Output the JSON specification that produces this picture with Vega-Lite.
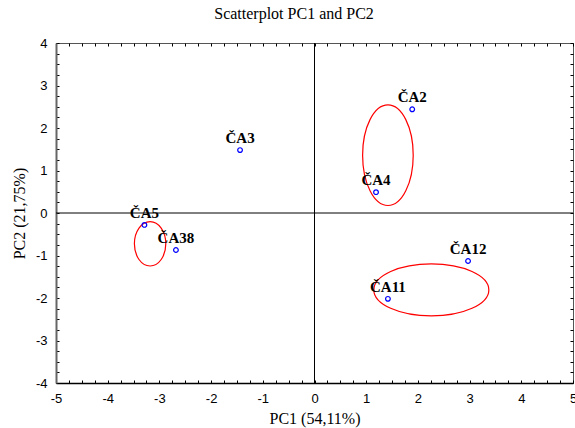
{
  "$schema": "https://vega.github.io/schema/vega-lite/v6.json",
  "width": 517,
  "height": 340,
  "autosize": "none",
  "padding": {"left": 56, "top": 43, "right": 2, "bottom": 45},
  "background": "white",
  "config": {"view": {"stroke": "#555", "strokeWidth": 1}},
  "title": {"text": "Scatterplot PC1 and PC2", "font": "Liberation Serif", "fontSize": 16, "fontWeight": "normal", "color": "black", "offset": 15, "frame": "bounds", "anchor": "middle"},
  "datasets": {
    "pts": [
      {"name": "ČA2", "pc1": 1.89, "pc2": 2.44},
      {"name": "ČA3", "pc1": -1.44, "pc2": 1.48},
      {"name": "ČA4", "pc1": 1.19, "pc2": 0.49},
      {"name": "ČA5", "pc1": -3.29, "pc2": -0.28},
      {"name": "ČA38", "pc1": -2.68, "pc2": -0.87},
      {"name": "ČA12", "pc1": 2.97, "pc2": -1.13},
      {"name": "ČA11", "pc1": 1.42, "pc2": -2.02}
    ],
    "ell": [
      {"group": "A", "pc1": 1.42, "pc2": 1.36},
      {"group": "B", "pc1": -3.18, "pc2": -0.725},
      {"group": "C", "pc1": 2.26, "pc2": -1.81}
    ]
  },
  "layer": [
    {
      "data": {"values": [{"v": 0}]},
      "mark": {"type": "rule", "color": "black", "strokeWidth": 1},
      "encoding": {
        "x": {"datum": 0, "type": "quantitative", "scale": {"domain": [-5, 5], "nice": false, "zero": false},
          "axis": {"orient": "bottom", "title": "PC1 (54,11%)", "titleFont": "Liberation Serif", "titleFontSize": 16, "titleFontWeight": "normal", "titleColor": "black", "titlePadding": 5,
            "values": [-5,-4.75,-4.5,-4.25,-4,-3.75,-3.5,-3.25,-3,-2.75,-2.5,-2.25,-2,-1.75,-1.5,-1.25,-1,-0.75,-0.5,-0.25,0,0.25,0.5,0.75,1,1.25,1.5,1.75,2,2.25,2.5,2.75,3,3.25,3.5,3.75,4,4.25,4.5,4.75,5],
            "labelExpr": "datum.value == round(datum.value) ? '' + datum.value : ''",
            "labelFont": "Liberation Sans", "labelFontSize": 13, "labelColor": "black", "labelFlush": false, "labelOverlap": false,
            "tickSize": -3, "tickColor": "black", "labelPadding": 12, "domainColor": "black", "domainWidth": 1.5, "grid": false}}
      }
    },
    {
      "data": {"values": [{"v": 0}]},
      "mark": {"type": "rule", "color": "black", "strokeWidth": 1},
      "encoding": {
        "y": {"datum": 0, "type": "quantitative", "scale": {"domain": [-4, 4], "nice": false, "zero": false},
          "axis": {"orient": "left", "title": "PC2 (21,75%)", "titleFont": "Liberation Serif", "titleFontSize": 16, "titleFontWeight": "normal", "titleColor": "black", "titlePadding": 8,
            "values": [-4,-3.75,-3.5,-3.25,-3,-2.75,-2.5,-2.25,-2,-1.75,-1.5,-1.25,-1,-0.75,-0.5,-0.25,0,0.25,0.5,0.75,1,1.25,1.5,1.75,2,2.25,2.5,2.75,3,3.25,3.5,3.75,4],
            "labelExpr": "datum.value == round(datum.value) ? '' + datum.value : ''",
            "labelFont": "Liberation Sans", "labelFontSize": 13, "labelColor": "black", "labelFlush": false, "labelOverlap": false,
            "tickSize": -3, "tickColor": "black", "labelPadding": 12, "domainColor": "#666", "domainWidth": 2, "grid": false}}
      }
    },
    {
      "data": {"name": "ell"},
      "mark": {"type": "point", "filled": false, "stroke": "red", "strokeWidth": 1.2, "size": 4, "opacity": 1},
      "encoding": {
        "x": {"field": "pc1", "type": "quantitative",
          "axis": {"orient": "top", "title": null, "labels": false, "domain": false,
            "values": [-5,-4.75,-4.5,-4.25,-4,-3.75,-3.5,-3.25,-3,-2.75,-2.5,-2.25,-2,-1.75,-1.5,-1.25,-1,-0.75,-0.5,-0.25,0,0.25,0.5,0.75,1,1.25,1.5,1.75,2,2.25,2.5,2.75,3,3.25,3.5,3.75,4,4.25,4.5,4.75,5],
            "tickSize": -3, "tickColor": "black", "grid": false}},
        "y": {"field": "pc2", "type": "quantitative",
          "axis": {"orient": "right", "title": null, "labels": false, "domain": false,
            "values": [-4,-3.75,-3.5,-3.25,-3,-2.75,-2.5,-2.25,-2,-1.75,-1.5,-1.25,-1,-0.75,-0.5,-0.25,0,0.25,0.5,0.75,1,1.25,1.5,1.75,2,2.25,2.5,2.75,3,3.25,3.5,3.75,4],
            "tickSize": -3, "tickColor": "black", "grid": false}},
        "shape": {"field": "group", "type": "nominal", "legend": null,
          "scale": {"domain": ["A", "B", "C"], "range": [
            "M -25.3 0 A 25.3 50.3 0 1 0 25.3 0 A 25.3 50.3 0 1 0 -25.3 0 Z",
            "M -15.7 0 A 15.7 22.2 0 1 0 15.7 0 A 15.7 22.2 0 1 0 -15.7 0 Z",
            "M -57.5 0 A 57.5 26 0 1 0 57.5 0 A 57.5 26 0 1 0 -57.5 0 Z"]}}
      }
    },
    {
      "data": {"name": "pts"},
      "mark": {"type": "point", "filled": false, "stroke": "blue", "strokeWidth": 1.2, "size": 22, "opacity": 1},
      "encoding": {
        "x": {"field": "pc1", "type": "quantitative", "axis": null},
        "y": {"field": "pc2", "type": "quantitative", "axis": null}
      }
    },
    {
      "data": {"name": "pts"},
      "mark": {"type": "text", "font": "Liberation Serif", "fontSize": 15, "fontWeight": "bold", "color": "black", "baseline": "alphabetic", "align": "center", "dy": -7},
      "encoding": {
        "x": {"field": "pc1", "type": "quantitative", "axis": null},
        "y": {"field": "pc2", "type": "quantitative", "axis": null},
        "text": {"field": "name"}
      }
    }
  ]
}
